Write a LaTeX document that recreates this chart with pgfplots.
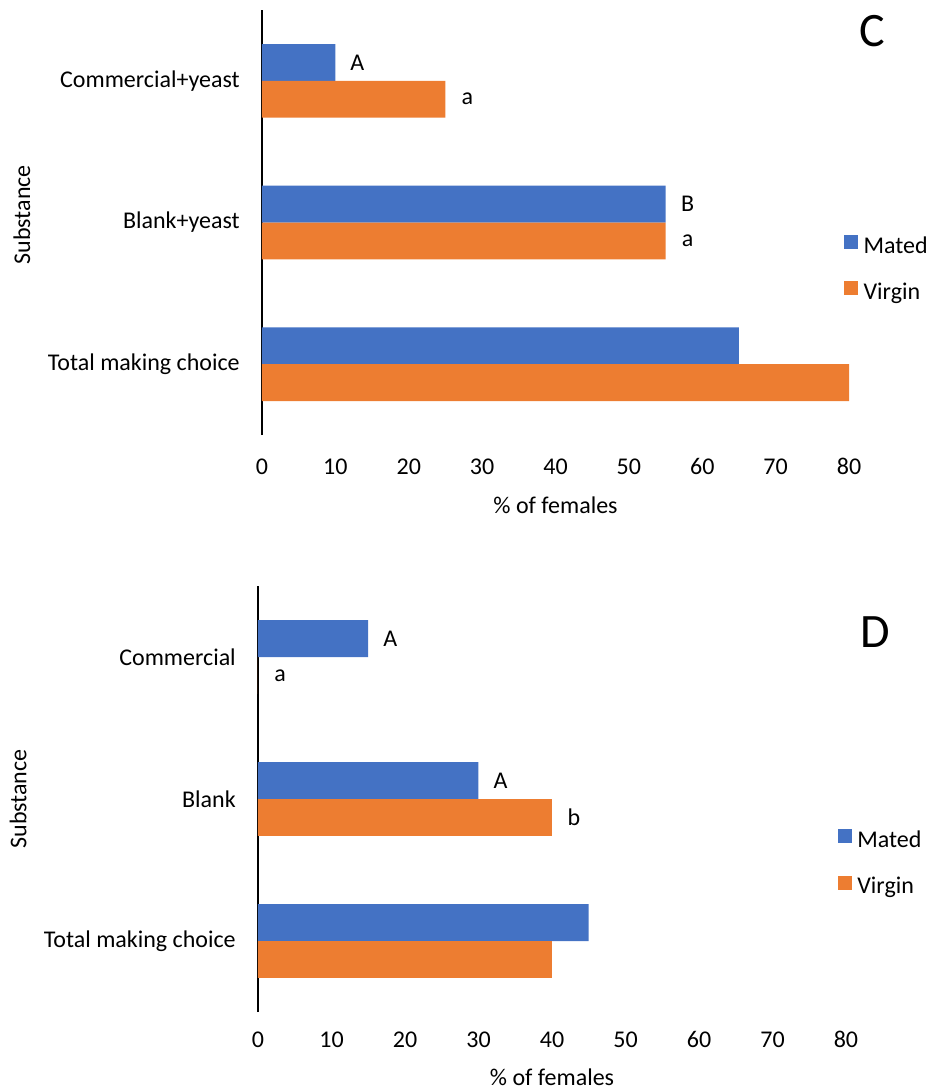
\documentclass[border=0pt]{standalone}
\usepackage{fontspec}
\setmainfont{Carlito}
\usepackage{pgfplots}
\pgfplotsset{compat=1.18}
\definecolor{mated}{HTML}{4472C4}
\definecolor{virgin}{HTML}{ED7D31}
\newcommand{\lfont}{\fontsize{18}{21}\selectfont}
\pgfplotsset{
  panel/.style={
    scale only axis,
    clip=false,
    xmin=0, xmax=80, ymin=-0.5, ymax=2.5,
    axis lines*=left,
    x axis line style={draw=none},
    y axis line style={line width=1.1pt, black},
    xtick={0,10,...,80},
    ytick={0,1,2},
    tick style={draw=none},
    major tick length=0pt,
    xbar, bar width=0.26,
    /pgf/number format/assume math mode=true,
    tick label style={font=\lfont},
    yticklabel style={anchor=east, inner sep=0pt, xshift=-16.5pt},
    xlabel={\% of females},
    ylabel={Substance},
    label style={font=\lfont},
    point meta=explicit symbolic,
    nodes near coords,
    nodes near coords style={anchor=center, xshift=16.5pt, font=\lfont, inner sep=0pt},
    legend cell align=left,
    legend image code/.code={\fill[##1, draw=none] (0pt,-0.95pt) rectangle (10.5pt,9.55pt);},
  },
}
\begin{document}
\begin{tikzpicture}
\path[use as bounding box] (0,0) rectangle (697.5pt,-819pt);
% Panel C
\begin{axis}[panel,
  at={(196.5pt,-326.25pt)}, anchor=south west,
  width=440.25pt, height=318.75pt,
  yticklabels={Total making choice, Blank+yeast, Commercial+yeast},
  xticklabel style={anchor=base, yshift=-29.6pt},
  xlabel style={at={(axis description cs:0.5,-0.165)}, anchor=center},
  ylabel style={at={(axis description cs:-0.409,0.518)}, anchor=center},
  legend style={draw=none, fill=none, at={(axis description cs:0.9915,0.4708)}, anchor=north west,
    inner sep=0pt, row sep=17pt, font=\lfont,
    nodes={inner xsep=4pt, inner ysep=0pt, text height=12pt, text depth=4pt}},
]
\addplot[fill=mated, draw=none, bar shift=0.13] coordinates {(65,0) [{}] (55,1) [B] (10,2) [A]};
\addlegendentry{Mated}
\addplot[fill=virgin, draw=none, bar shift=-0.13] coordinates {(80,0) [{}] (55,1) [a] (25,2) [a]};
\addlegendentry{Virgin}
\node[font=\fontsize{36}{40}\selectfont] at (rel axis cs:1.039,0.950) {C};
\end{axis}
% Panel D
\begin{axis}[panel,
  at={(193.5pt,-759pt)}, anchor=south west,
  width=441pt, height=319.5pt,
  yticklabels={Total making choice, Blank, Commercial},
  xticklabel style={anchor=base, yshift=-26.6pt},
  xlabel style={at={(axis description cs:0.5,-0.1526)}, anchor=center},
  ylabel style={at={(axis description cs:-0.408,0.5)}, anchor=center},
  legend style={draw=none, fill=none, at={(axis description cs:0.986,0.4291)}, anchor=north west,
    inner sep=0pt, row sep=17pt, font=\lfont,
    nodes={inner xsep=4pt, inner ysep=0pt, text height=12pt, text depth=4pt}},
]
\addplot[fill=mated, draw=none, bar shift=0.13] coordinates {(45,0) [{}] (30,1) [A] (15,2) [A]};
\addlegendentry{Mated}
\addplot[fill=virgin, draw=none, bar shift=-0.13] coordinates {(40,0) [{}] (40,1) [b] (0,2) [a]};
\addlegendentry{Virgin}
\node[font=\fontsize{36}{40}\selectfont] at (rel axis cs:1.049,0.892) {D};
\end{axis}
\end{tikzpicture}
\end{document}
